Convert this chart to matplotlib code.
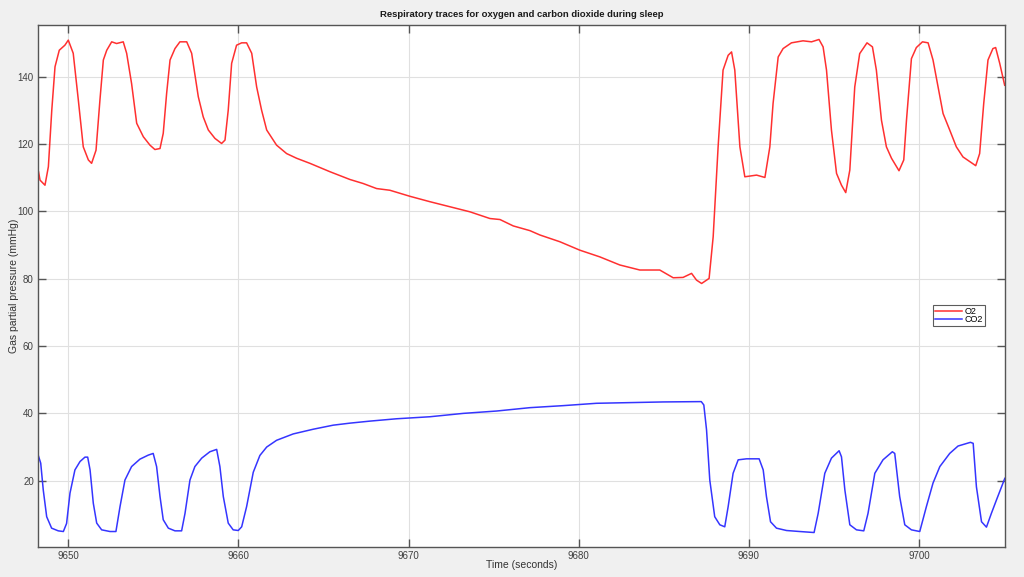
import matplotlib
matplotlib.use("Agg")
import matplotlib.pyplot as plt

plt.rcParams['font.family'] = ['Liberation Sans', 'DejaVu Sans']

# O2 trace (time s, mmHg)
o2_t = [9648.25, 9648.34, 9648.63, 9648.83, 9649.03, 9649.22, 9649.47, 9649.8, 9650.0,
        9650.29, 9650.59, 9650.88, 9651.18, 9651.37, 9651.63, 9651.86, 9652.06, 9652.26,
        9652.55, 9652.84, 9653.23, 9653.43, 9653.72, 9654.02, 9654.41, 9654.8, 9655.09,
        9655.39, 9655.58, 9655.78, 9655.98, 9656.27, 9656.56, 9656.96, 9657.25, 9657.64,
        9657.93, 9658.23, 9658.62, 9659.01, 9659.21, 9659.4, 9659.6, 9659.89, 9660.19,
        9660.48, 9660.78, 9661.07, 9661.36, 9661.66, 9662.24, 9662.83, 9663.42, 9664.2,
        9665.38, 9666.55, 9667.33, 9668.12, 9668.9, 9670.08, 9671.25, 9672.43, 9673.6,
        9674.78, 9675.37, 9676.15, 9677.13, 9677.72, 9678.89, 9680.06, 9681.24, 9682.41,
        9683.59, 9684.76, 9685.55, 9686.13, 9686.63, 9686.92, 9687.22, 9687.66, 9687.9,
        9688.19, 9688.48, 9688.78, 9688.98, 9689.17, 9689.47, 9689.76, 9690.45, 9690.94,
        9691.23, 9691.42, 9691.72, 9692.01, 9692.5, 9693.18, 9693.68, 9694.12, 9694.36,
        9694.56, 9694.85, 9695.15, 9695.44, 9695.69, 9695.93, 9696.22, 9696.51, 9696.94,
        9697.26, 9697.49, 9697.79, 9698.08, 9698.38, 9698.82, 9699.1, 9699.26, 9699.55,
        9699.84, 9700.2, 9700.53, 9700.82, 9701.12, 9701.41, 9701.8, 9702.19, 9702.58,
        9702.98, 9703.33, 9703.56, 9703.8, 9704.05, 9704.34, 9704.5, 9704.74, 9705.03]
o2_val = [111.8, 109.3, 107.8, 113.3, 130.1, 143.0, 147.9, 149.4, 150.9,
          147.0, 133.1, 119.2, 115.3, 114.3, 118.2, 133.1, 145.0, 147.9,
          150.4, 149.9, 150.4, 147.0, 138.0, 126.2, 122.2, 119.7, 118.4,
          118.7, 123.2, 135.1, 145.0, 148.4, 150.4, 150.4, 147.0, 134.1,
          128.1, 124.2, 121.7, 120.2, 121.2, 130.1, 144.0, 149.4, 150.1,
          150.1, 147.0, 137.0, 130.1, 124.2, 119.7, 117.2, 115.8, 114.3,
          111.8, 109.5, 108.3, 106.8, 106.3, 104.5, 102.9, 101.4, 99.9,
          97.9, 97.6, 95.7, 94.3, 93.0, 91.0, 88.5, 86.5, 84.1,
          82.6, 82.6, 80.3, 80.4, 81.6, 79.6, 78.6, 80.1, 92.5,
          119.2, 142.0, 146.4, 147.4, 142.0, 119.2, 110.3, 110.8, 110.1,
          119.2, 132.1, 145.9, 148.4, 150.1, 150.7, 150.4, 151.1, 148.9,
          142.0, 124.2, 111.3, 107.8, 105.6, 112.3, 137.0, 146.9, 150.1,
          148.9, 142.0, 127.1, 119.2, 115.8, 112.1, 115.3, 127.1, 145.4,
          148.7, 150.4, 150.1, 145.0, 137.0, 129.1, 124.2, 119.2, 116.2,
          114.8, 113.6, 117.2, 132.1, 145.0, 148.4, 148.7, 144.0, 137.5]

# CO2 trace (time s, mmHg)
co2_t = [9648.25, 9648.38, 9648.53, 9648.73, 9649.02, 9649.41, 9649.71, 9649.9, 9650.1,
         9650.39, 9650.69, 9650.98, 9651.14, 9651.28, 9651.47, 9651.67, 9651.96, 9652.45,
         9652.8, 9653.04, 9653.33, 9653.72, 9654.21, 9654.7, 9654.99, 9655.19, 9655.39,
         9655.58, 9655.88, 9656.27, 9656.66, 9656.86, 9657.15, 9657.44, 9657.84, 9658.32,
         9658.72, 9658.91, 9659.11, 9659.4, 9659.69, 9659.99, 9660.19, 9660.48, 9660.87,
         9661.26, 9661.66, 9662.24, 9663.22, 9664.4, 9665.57, 9666.55, 9667.72, 9669.29,
         9671.25, 9673.21, 9675.17, 9677.13, 9679.08, 9681.04, 9683.0, 9684.96, 9687.2,
         9687.35, 9687.51, 9687.7, 9687.99, 9688.29, 9688.58, 9688.78, 9689.07, 9689.37,
         9689.86, 9690.6, 9690.84, 9691.03, 9691.27, 9691.62, 9692.21, 9692.99, 9693.83,
         9694.07, 9694.46, 9694.85, 9695.3, 9695.44, 9695.64, 9695.93, 9696.32, 9696.75,
         9697.0, 9697.4, 9697.88, 9698.43, 9698.57, 9698.86, 9699.16, 9699.55, 9700.04,
         9700.43, 9700.82, 9701.22, 9701.8, 9702.29, 9703.02, 9703.18, 9703.37, 9703.67,
         9703.96, 9704.25, 9704.55, 9705.04]
co2_val = [27.3, 25.2, 17.2, 9.3, 5.9, 5.1, 4.9, 7.3, 16.3,
           23.2, 25.7, 27.0, 27.0, 23.2, 13.3, 7.4, 5.4, 4.9,
           4.9, 12.3, 20.2, 24.2, 26.4, 27.6, 28.1, 24.2, 15.3,
           8.4, 5.9, 5.1, 5.1, 10.3, 20.2, 24.2, 26.7, 28.6,
           29.3, 24.2, 15.3, 7.4, 5.4, 5.2, 6.3, 12.3, 22.5,
           27.5, 30.0, 32.0, 33.9, 35.3, 36.5, 37.1, 37.7, 38.4,
           39.0, 40.0, 40.7, 41.7, 42.3, 43.0, 43.2, 43.4, 43.5,
           42.5, 35.1, 20.2, 9.3, 6.9, 6.3, 12.3, 22.2, 26.2,
           26.5, 26.5, 23.2, 15.3, 7.8, 5.9, 5.2, 4.9, 4.6,
           10.3, 22.2, 26.7, 28.9, 27.1, 17.2, 6.9, 5.4, 5.1,
           10.3, 22.2, 26.2, 28.6, 28.1, 15.3, 6.9, 5.4, 4.9,
           12.3, 19.3, 24.2, 28.1, 30.3, 31.4, 31.1, 18.2, 7.8,
           6.2, 10.3, 14.3, 20.7]

x_ticks = [9650, 9660, 9670, 9680, 9690, 9700]
y_ticks = [20, 40, 60, 80, 100, 120, 140]

fig = plt.figure(figsize=(10.24, 5.77), dpi=100, facecolor='#f0f0f0')
ax = fig.add_axes([38/1024, 1-547/577, (1005-38)/1024, (547-25)/577])
ax.set_facecolor('white')

ax.plot(o2_t, o2_val, color='#ff3030', lw=1.1, label='O2')
ax.plot(co2_t, co2_val, color='#3535ff', lw=1.1, label='CO2')

ax.set_xlim(9648.22, 9705.05)
ax.set_ylim(0.3, 155.4)
ax.set_xticks(x_ticks)
ax.set_yticks(y_ticks)
ax.grid(True, color='#e0e0e0', lw=0.8)
ax.set_axisbelow(True)

for s in ax.spines.values():
    s.set_color('#555555')
    s.set_linewidth(1.0)
ax.tick_params(direction='in', length=6, width=1, color='#555555', labelcolor='#404040',
               labelsize=7, top=True, right=True, pad=3)

ax.set_title('Respiratory traces for oxygen and carbon dioxide during sleep',
             fontsize=6.8, fontweight='bold', color='#1a1a1a', pad=6)
ax.set_xlabel('Time (seconds)', fontsize=7.5, color='#333333', labelpad=-1)
ax.set_ylabel('Gas partial pressure (mmHg)', fontsize=7.5, color='#333333', labelpad=-1)

leg = ax.legend(loc='upper left', bbox_to_anchor=(933/1024, 1-305/577),
                bbox_transform=fig.transFigure, fontsize=6.5, frameon=True,
                fancybox=False, borderpad=0.2, handlelength=3.0, handletextpad=0.3,
                labelspacing=-0.1, borderaxespad=0)
leg.get_frame().set_edgecolor('#333333')
leg.get_frame().set_linewidth(0.8)

fig.savefig('out.png', dpi=100, facecolor=fig.get_facecolor())
